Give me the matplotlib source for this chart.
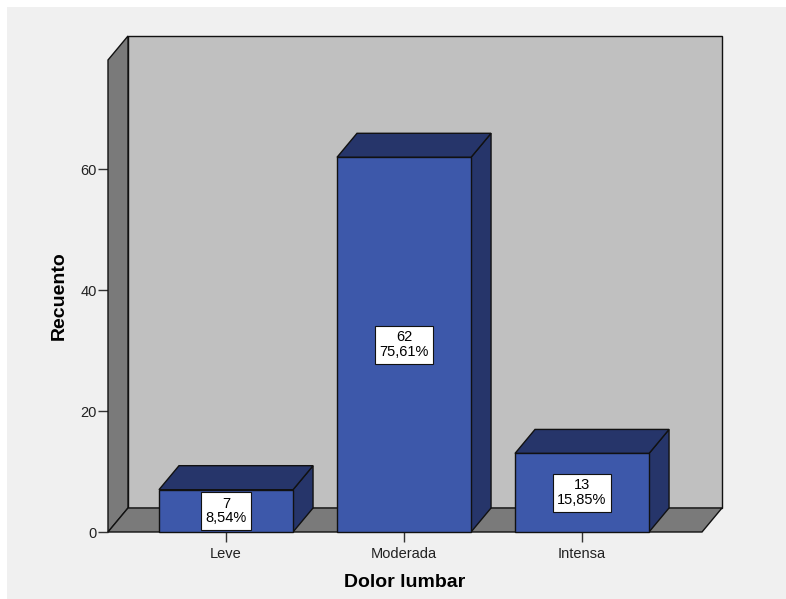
import matplotlib
matplotlib.use("Agg")
import matplotlib.pyplot as plt
from matplotlib.patches import Polygon, Rectangle

# Data
categories = ["Leve", "Moderada", "Intensa"]
counts = [7, 62, 13]
percents = ["8,54%", "75,61%", "15,85%"]
y_ticks = [0, 20, 40, 60]

# Style
front_col = "#3d58aa"
dark_col = "#26356a"
wall_col = "#c0c0c0"
side_col = "#7a7a7a"
bg_col = "#f0f0f0"
edge_col = "#111111"

plt.rcParams['font.family'] = ['Liberation Sans', 'DejaVu Sans']

fig = plt.figure(figsize=(7.86, 5.99), dpi=100)
fig.patch.set_facecolor(bg_col)
# thin white strip on top and left like the screenshot
fig.patches.append(Rectangle((0, 1 - 7/599), 1, 7/599, transform=fig.transFigure,
                             facecolor="white", edgecolor="none"))
fig.patches.append(Rectangle((0, 0), 7/786, 1, transform=fig.transFigure,
                             facecolor="white", edgecolor="none"))

ax = fig.add_axes([108/786, (599-532)/599, 594/786, 472/599])
ax.set_facecolor("none")
for s in ax.spines.values():
    s.set_visible(False)

x0, x1 = -0.663, 2.674
y0, y1 = 0, 78.1
ax.set_xlim(x0, x1)
ax.set_ylim(y0, y1)

# depth offset in data units
dx = 20 / 178
dy = 24 / 6.04
width = 0.753


def poly(pts, fc, z):
    ax.add_patch(Polygon(pts, closed=True, facecolor=fc, edgecolor=edge_col,
                         linewidth=1.0, zorder=z, clip_on=False))


# back wall, left wall, floor
poly([(x0 + dx, y0 + dy), (x1 + dx, y0 + dy), (x1 + dx, y1 + dy), (x0 + dx, y1 + dy)], wall_col, 1)
poly([(x0, y0), (x0 + dx, y0 + dy), (x0 + dx, y1 + dy), (x0, y1)], side_col, 2)
poly([(x0, y0), (x1, y0), (x1 + dx, y0 + dy), (x0 + dx, y0 + dy)], side_col, 2)

# bars
for i, (c, p) in enumerate(zip(counts, percents)):
    l, r = i - width / 2, i + width / 2
    poly([(r, 0), (r + dx, dy), (r + dx, c + dy), (r, c)], dark_col, 3)
    poly([(l, c), (r, c), (r + dx, c + dy), (l + dx, c + dy)], dark_col, 3)
    poly([(l, 0), (r, 0), (r, c), (l, c)], front_col, 4)
    ax.text(i, c / 2, f"{c}\n{p}", ha="center", va="center", fontsize=10.5,
            linespacing=1.05, zorder=6,
            bbox=dict(boxstyle="square,pad=0.32", facecolor="white",
                      edgecolor=edge_col, linewidth=0.8))

ax.set_xticks(range(len(categories)))
ax.set_xticklabels(categories)
ax.set_yticks(y_ticks)
ax.tick_params(axis="both", length=7, width=1, color="#333333",
               labelsize=10.5, labelcolor="#222222")
ax.tick_params(axis="y", pad=1)
ax.tick_params(axis="x", pad=4)

ax.set_xlabel("Dolor lumbar", fontsize=14, fontweight="bold", labelpad=9)
ax.set_ylabel("Recuento", fontsize=14, fontweight="bold", labelpad=9)

fig.savefig("out.png", dpi=100, facecolor=fig.get_facecolor())
